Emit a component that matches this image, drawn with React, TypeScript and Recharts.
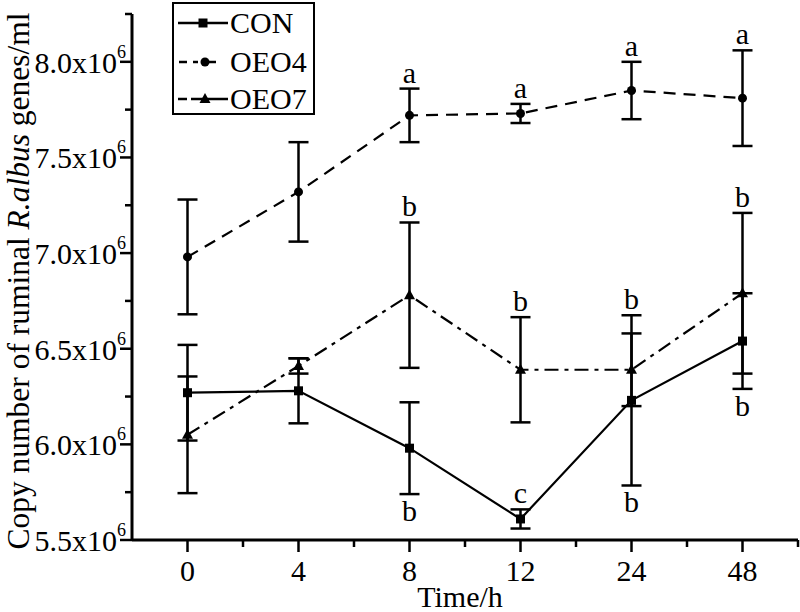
import React from "react";
import { LineChart, Line, XAxis, YAxis, ErrorBar, Legend, Label } from "recharts";

// ---- data (values in x10^6 copies/ml) ----
const categories = ["0", "4", "8", "12", "24", "48"];
const conValues = [6.27, 6.28, 5.98, 5.61, 6.23, 6.54];
const conErrors = [0.25, 0.17, 0.24, 0.05, 0.445, 0.25];
const oeo4Values = [6.98, 7.32, 7.72, 7.73, 7.85, 7.81];
const oeo4Errors = [0.3, 0.26, 0.14, 0.05, 0.15, 0.25];
const oeo7Values = [6.05, 6.41, 6.78, 6.39, 6.39, 6.79];
const oeo7Errors = [0.305, 0.04, 0.38, 0.275, 0.19, 0.42];

const conLetters = ["", "", "b", "c", "b", "b"];
const conLetterSides = ["", "", "below", "above", "below", "below"];
const oeo4Letters = ["", "", "a", "a", "a", "a"];
const oeo7Letters = ["", "", "b", "b", "b", "b"];

const yTicks = [5.5, 5.75, 6.0, 6.25, 6.5, 6.75, 7.0, 7.25, 7.5, 7.75, 8.0, 8.25];
const seriesNames = ["CON", "OEO4", "OEO7"];

const FONT = "Liberation Serif, Tinos, Times New Roman, serif";
const PLOT_W = 666;
const HALF_BAND = PLOT_W / categories.length / 2;

const data = categories.map((c, i) => ({
  time: c,
  con: conValues[i],
  conErr: conErrors[i],
  oeo4: oeo4Values[i],
  oeo4Err: oeo4Errors[i],
  oeo7: oeo7Values[i],
  oeo7Err: oeo7Errors[i],
  conAnchor:
    conLetterSides[i] === "above" ? conValues[i] + conErrors[i] : conValues[i] - conErrors[i],
  oeo4Anchor: oeo4Values[i] + oeo4Errors[i],
  oeo7Anchor: Math.max(oeo7Values[i] + oeo7Errors[i], conValues[i] + conErrors[i]),
}));

const SquareDot = (props: any) => {
  const { cx, cy } = props;
  if (cx == null || cy == null) return null;
  return <rect x={cx - 4.5} y={cy - 4.5} width={9} height={9} fill="#000" />;
};
const CircleDot = (props: any) => {
  const { cx, cy } = props;
  if (cx == null || cy == null) return null;
  return <circle cx={cx} cy={cy} r={4.5} fill="#000" />;
};
const TriangleDot = (props: any) => {
  const { cx, cy } = props;
  if (cx == null || cy == null) return null;
  return <polygon points={`${cx},${cy - 6} ${cx + 5.5},${cy + 4} ${cx - 5.5},${cy + 4}`} fill="#000" />;
};

const YTick = (props: any) => {
  const { x, y, payload } = props;
  const v = payload.value;
  const major = Math.abs(v * 2 - Math.round(v * 2)) < 1e-6;
  if (!major) {
    return <line x1={x - 7} x2={x} y1={y} y2={y} stroke="#000" strokeWidth={2.5} />;
  }
  return (
    <g>
      <line x1={x - 12} x2={x} y1={y} y2={y} stroke="#000" strokeWidth={2.5} />
      <text x={x - 6} y={y + 11} textAnchor="end" fontFamily={FONT} fontSize={30} fill="#000">
        {v.toFixed(1) + "x10"}
        <tspan dy={-15} fontSize={18}>6</tspan>
      </text>
    </g>
  );
};

const XTick = (props: any) => {
  const { x, y, payload } = props;
  return (
    <g>
      <line x1={x} x2={x} y1={y} y2={y + 12} stroke="#000" strokeWidth={2.5} />
      <line x1={x + HALF_BAND} x2={x + HALF_BAND} y1={y} y2={y + 7} stroke="#000" strokeWidth={2.5} />
      <text x={x} y={y + 41} textAnchor="middle" fontFamily={FONT} fontSize={30} fill="#000">
        {payload.value}
      </text>
    </g>
  );
};

const makeLetterLabel = (letters: string[], sides: string[] | null) => (props: any) => {
  const { x, y, index } = props;
  const letter = letters[index];
  if (!letter || x == null || y == null) return null;
  const side = sides ? sides[index] : "above";
  const ty = side === "above" ? y - 6 : y + 27;
  return (
    <text key={`l-${index}`} x={x} y={ty} textAnchor="middle" fontFamily={FONT} fontSize={30} fill="#000">
      {letter}
    </text>
  );
};

const YLabel = (props: any) => {
  const vb = props.viewBox || { x: 0, y: 14, width: 132, height: 526 };
  const cx = 29;
  const cy = vb.y + vb.height / 2 + 4;
  return (
    <text
      x={cx}
      y={cy}
      transform={`rotate(-90, ${cx}, ${cy})`}
      textAnchor="middle"
      fontFamily={FONT}
      fontSize={31.5}
      fill="#000"
    >
      Copy number of ruminal <tspan fontStyle="italic">R.albus</tspan> genes/ml
    </text>
  );
};

const XLabel = (props: any) => {
  const vb = props.viewBox || { x: 132, y: 540, width: 666, height: 72 };
  return (
    <text x={vb.x + 328} y={vb.y + 67} textAnchor="middle" fontFamily={FONT} fontSize={30} fill="#000">
      Time/h
    </text>
  );
};

const LegendBox = () => {
  const samples = [
    <g key="s0">
      <line x1={6} x2={56} y1={21} y2={21} stroke="#000" strokeWidth={2.5} />
      <rect x={26.5} y={16.5} width={9} height={9} fill="#000" />
    </g>,
    <g key="s1">
      <line x1={7} x2={15} y1={60} y2={60} stroke="#000" strokeWidth={2.5} />
      <line x1={21} x2={26} y1={60} y2={60} stroke="#000" strokeWidth={2.5} />
      <line x1={30} x2={44} y1={60} y2={60} stroke="#000" strokeWidth={2.5} />
      <circle cx={33} cy={60} r={4.5} fill="#000" />
    </g>,
    <g key="s2">
      <line x1={6} x2={15} y1={97} y2={97} stroke="#000" strokeWidth={2.5} />
      <line x1={19} x2={56} y1={97} y2={97} stroke="#000" strokeWidth={2.5} />
      <polygon points="33,91 38.5,101 27.5,101" fill="#000" />
    </g>,
  ];
  const textY = [31, 70, 107];
  return (
    <svg width={143} height={113} style={{ display: "block" }}>
      <rect x={1} y={1} width={141} height={111} fill="#fff" stroke="#000" strokeWidth={2} />
      {samples}
      {seriesNames.map((n, i) => (
        <text key={n} x={58} y={textY[i]} fontFamily={FONT} fontSize={30} fill="#000">
          {n}
        </text>
      ))}
    </svg>
  );
};

export default function App() {
  return (
    <div style={{ position: "absolute", left: 0, top: 0, width: 800, height: 612, background: "#fff" }}>
      <LineChart width={800} height={612} data={data} margin={{ top: 14, right: 2, bottom: 0, left: 0 }}>
        <XAxis
          dataKey="time"
          type="category"
          height={72}
          padding={{ left: HALF_BAND, right: HALF_BAND }}
          axisLine={{ stroke: "#000", strokeWidth: 3 }}
          tickLine={false}
          tickSize={0}
          tickMargin={0}
          interval={0}
          tick={<XTick />}
        >
          <Label content={<XLabel />} />
        </XAxis>
        <YAxis
          type="number"
          width={132}
          domain={[5.5, 8.25]}
          ticks={yTicks}
          interval={0}
          allowDataOverflow
          axisLine={{ stroke: "#000", strokeWidth: 3 }}
          tickLine={false}
          tickSize={0}
          tickMargin={0}
          tick={<YTick />}
        >
          <Label content={<YLabel />} />
        </YAxis>
        <Legend
          layout="vertical"
          align="center"
          verticalAlign="middle"
          content={<LegendBox />}
          wrapperStyle={{ position: "absolute", left: 172, top: 2, width: 143, height: 113 }}
        />
        <Line
          dataKey="con"
          stroke="#000"
          strokeWidth={2.2}
          dot={<SquareDot />}
          activeDot={false}
          isAnimationActive={false}
        >
          <ErrorBar dataKey="conErr" width={10} stroke="#000" strokeWidth={2.5} direction="y" />
        </Line>
        <Line
          dataKey="oeo4"
          stroke="#000"
          strokeWidth={2.2}
          strokeDasharray="12 8"
          dot={<CircleDot />}
          activeDot={false}
          isAnimationActive={false}
        >
          <ErrorBar dataKey="oeo4Err" width={10} stroke="#000" strokeWidth={2.5} direction="y" />
        </Line>
        <Line
          dataKey="oeo7"
          stroke="#000"
          strokeWidth={2.2}
          strokeDasharray="14 6 4 6"
          dot={<TriangleDot />}
          activeDot={false}
          isAnimationActive={false}
        >
          <ErrorBar dataKey="oeo7Err" width={10} stroke="#000" strokeWidth={2.5} direction="y" />
        </Line>
        <Line
          dataKey="conAnchor"
          stroke="none"
          dot={false}
          activeDot={false}
          legendType="none"
          isAnimationActive={false}
          label={makeLetterLabel(conLetters, conLetterSides)}
        />
        <Line
          dataKey="oeo4Anchor"
          stroke="none"
          dot={false}
          activeDot={false}
          legendType="none"
          isAnimationActive={false}
          label={makeLetterLabel(oeo4Letters, null)}
        />
        <Line
          dataKey="oeo7Anchor"
          stroke="none"
          dot={false}
          activeDot={false}
          legendType="none"
          isAnimationActive={false}
          label={makeLetterLabel(oeo7Letters, null)}
        />
      </LineChart>
    </div>
  );
}
